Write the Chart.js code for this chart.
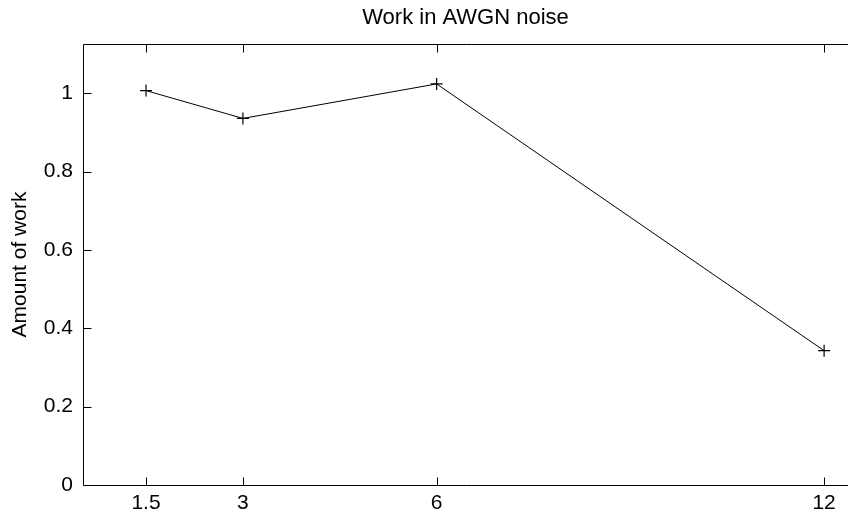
<!DOCTYPE html>
<html>
<head>
<meta charset="utf-8">
<script src="https://cdn.jsdelivr.net/npm/chart.js@4/dist/chart.umd.min.js"></script>
<style>
  html, body { margin: 0; padding: 0; background: #fff; }
  #wrap { width: 848px; height: 512px; }
</style>
</head>
<body>
<div id="wrap"><canvas id="chart" width="848" height="512"></canvas></div>
<script>
// noise levels on x, amount of work on y
const noiseLevels = [1.5, 3, 6, 12];
const workAmount = [1.007, 0.936, 1.024, 0.343];
const xTicks = [1.5, 3, 6, 12];
const yTicks = [0, 0.2, 0.4, 0.6, 0.8, 1];

const family = "'Liberation Sans', Arial, sans-serif";
const tickFont = { family: family, size: 21 };
const labelFont = { family: family, size: 21 };

// matlab style box with inward ticks (right side runs off the canvas)
const boxPlugin = {
  id: "box",
  afterDraw(chart) {
    const { ctx, chartArea: a, scales } = chart;
    const L = Math.round(a.left) + 0.5, T = Math.round(a.top) + 0.5, B = Math.round(a.bottom) + 0.5;
    ctx.save();
    ctx.strokeStyle = "#000";
    ctx.lineWidth = 1;
    ctx.beginPath();
    ctx.moveTo(a.right + 2, T); ctx.lineTo(L, T); ctx.lineTo(L, B); ctx.lineTo(a.right + 2, B);
    for (const v of xTicks) {
      const x = Math.round(scales.x.getPixelForValue(v)) + 0.5;
      ctx.moveTo(x, B); ctx.lineTo(x, B - 8);
      ctx.moveTo(x, T); ctx.lineTo(x, T + 8);
    }
    for (const v of yTicks) {
      const y = Math.round(scales.y.getPixelForValue(v)) + 0.5;
      ctx.moveTo(L, y); ctx.lineTo(L + 8, y);
    }
    ctx.stroke();
    ctx.restore();
  }
};

new Chart(document.getElementById("chart"), {
  type: "line",
  plugins: [boxPlugin],
  data: {
    datasets: [{
      data: noiseLevels.map((x, i) => ({ x: x, y: workAmount[i] })),
      borderColor: "#000",
      borderWidth: 1,
      pointStyle: "cross",
      pointRadius: 6,
      pointBorderColor: "#000",
      pointBorderWidth: 1.2,
      fill: false,
      tension: 0
    }]
  },
  options: {
    responsive: false,
    animation: false,
    layout: { autoPadding: false, padding: { left: 0, right: 0, top: 0, bottom: 0 } },
    plugins: {
      legend: { display: false },
      tooltip: { enabled: false },
      title: {
        display: true,
        fullSize: false,
        text: "Work in AWGN noise",
        color: "#000",
        font: { family: family, size: 22, weight: "normal" },
        padding: { top: 4.8, bottom: 12.8 }
      }
    },
    scales: {
      x: {
        type: "linear",
        min: 0.524,
        max: 12.37,
        afterBuildTicks: (s) => { s.ticks = xTicks.map(v => ({ value: v })); },
        afterFit: (s) => { s.height = 27; },
        grid: { display: false, drawTicks: false },
        border: { display: false },
        ticks: { color: "#000", font: tickFont, padding: 6, maxRotation: 0, autoSkip: false,
          callback: (v) => String(v) }
      },
      y: {
        min: 0,
        max: 1.126,
        afterBuildTicks: (s) => { s.ticks = yTicks.map(v => ({ value: v })); },
        afterFit: (s) => { s.width = 83; },
        grid: { display: false, drawTicks: false },
        border: { display: false },
        title: { display: true, text: "Amount of work", color: "#000", font: labelFont, padding: { top: 8, bottom: 0 } },
        ticks: { color: "#000", font: tickFont, padding: 10,
          callback: (v) => String(Math.round(v * 10) / 10) }
      }
    }
  }
});
</script>
</body>
</html>
